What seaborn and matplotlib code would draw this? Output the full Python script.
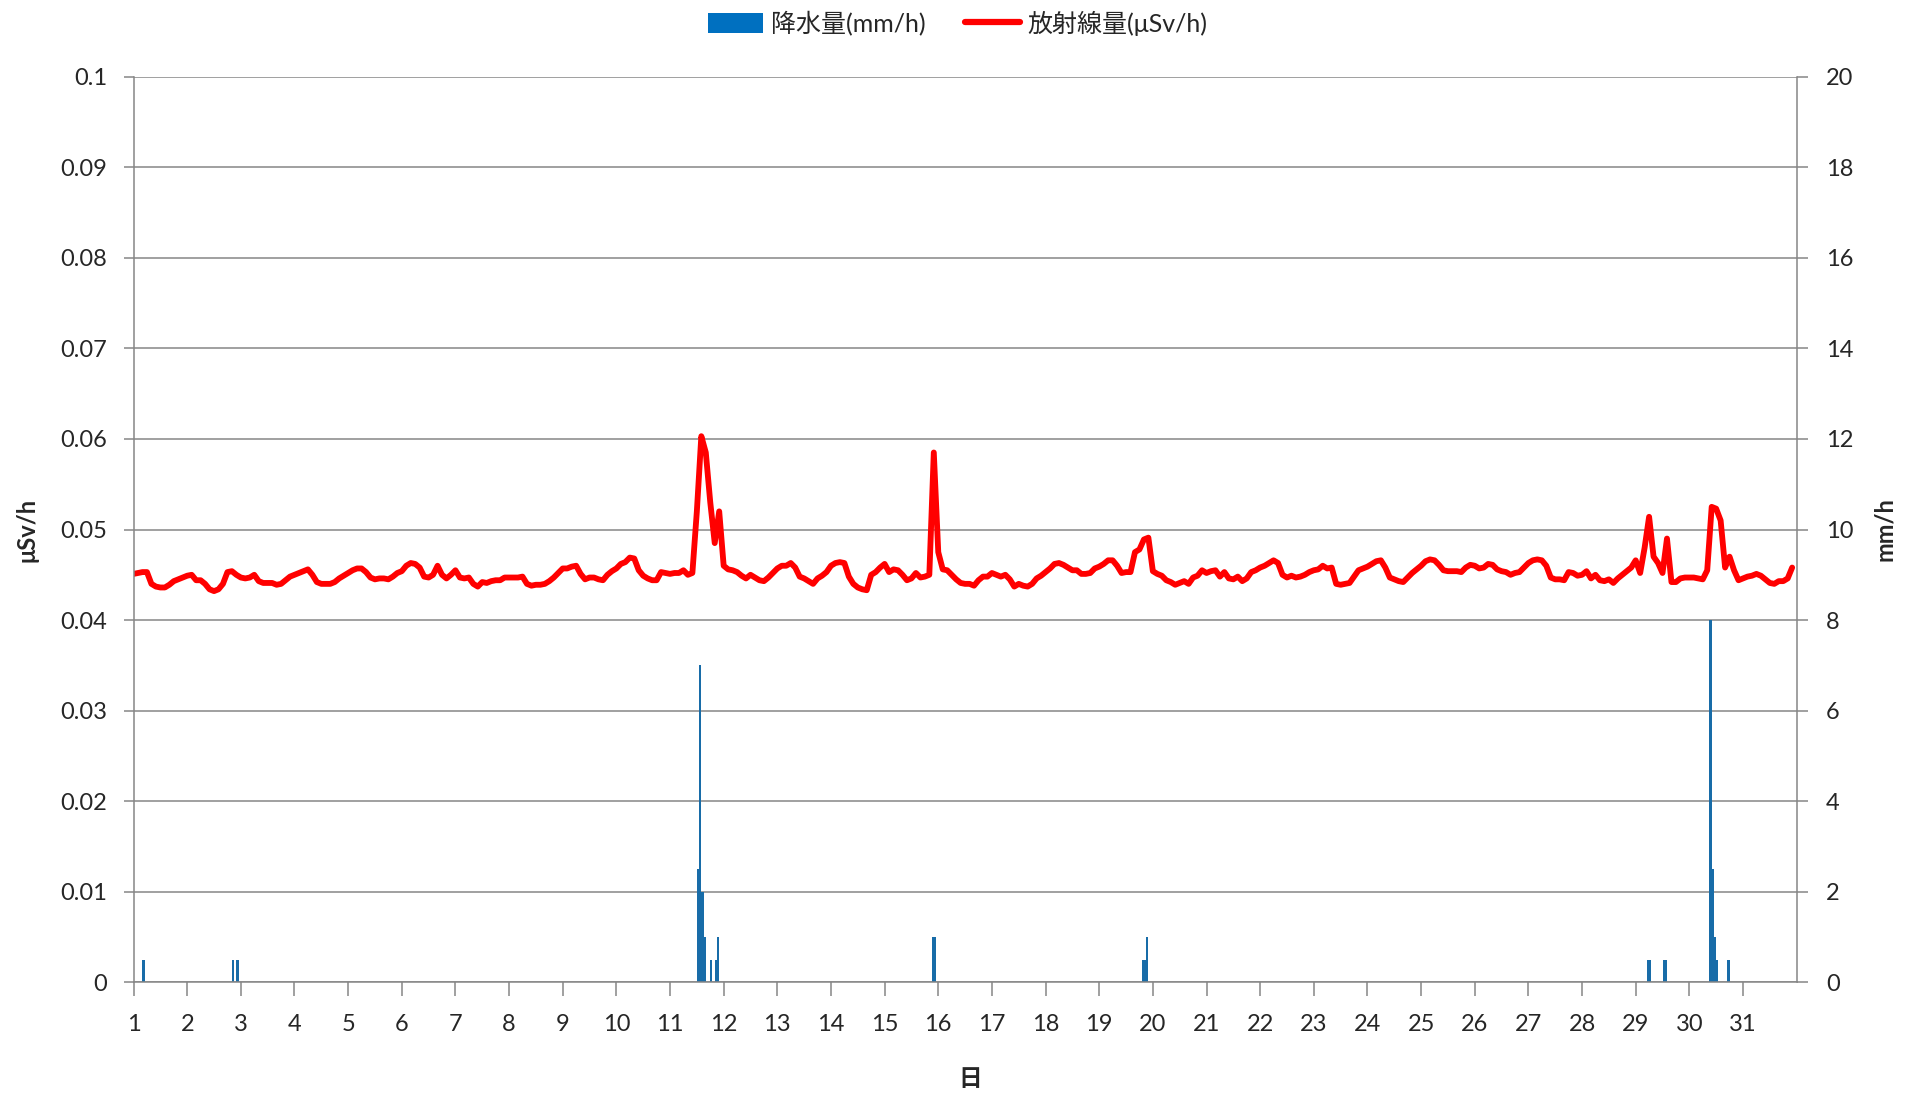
import numpy as np
import pandas as pd
import seaborn as sns
import matplotlib.pyplot as plt
from matplotlib.patches import Patch
from matplotlib.lines import Line2D

# x axis labels (day of month)
days = list(range(1, 32))

# radiation dose (μSv/h), read every 2 hours, 12 readings per day
dose = [
    0.0451, 0.0452, 0.0453, 0.0453, 0.0440, 0.0437, 0.0436, 0.0436, 0.0439, 0.0443, 0.0445, 0.0447,  # 1
    0.0449, 0.0450, 0.0444, 0.0444, 0.0440, 0.0434, 0.0432, 0.0434, 0.0440, 0.0453, 0.0454, 0.0450,  # 2
    0.0447, 0.0446, 0.0447, 0.0450, 0.0443, 0.0441, 0.0441, 0.0441, 0.0439, 0.0440, 0.0444, 0.0448,  # 3
    0.0450, 0.0452, 0.0454, 0.0456, 0.0450, 0.0442, 0.0440, 0.0440, 0.0440, 0.0442, 0.0446, 0.0449,  # 4
    0.0452, 0.0455, 0.0457, 0.0457, 0.0453, 0.0447, 0.0445, 0.0446, 0.0446, 0.0445, 0.0448, 0.0452,  # 5
    0.0454, 0.0460, 0.0463, 0.0462, 0.0458, 0.0448, 0.0447, 0.0450, 0.0460, 0.0450, 0.0446, 0.0450,  # 6
    0.0455, 0.0447, 0.0446, 0.0447, 0.0440, 0.0437, 0.0442, 0.0441, 0.0443, 0.0444, 0.0444, 0.0447,  # 7
    0.0447, 0.0447, 0.0447, 0.0448, 0.0440, 0.0438, 0.0439, 0.0439, 0.0440, 0.0443, 0.0447, 0.0452,  # 8
    0.0457, 0.0457, 0.0459, 0.0460, 0.0451, 0.0445, 0.0447, 0.0447, 0.0445, 0.0444, 0.0450, 0.0454,  # 9
    0.0457, 0.0462, 0.0464, 0.0469, 0.0468, 0.0455, 0.0449, 0.0446, 0.0444, 0.0444, 0.0453, 0.0452,  # 10
    0.0451, 0.0452, 0.0452, 0.0455, 0.0450, 0.0452, 0.0520, 0.0603, 0.0585, 0.0530, 0.0485, 0.0520,  # 11
    0.0460, 0.0456, 0.0455, 0.0453, 0.0449, 0.0446, 0.0450, 0.0447, 0.0444, 0.0443, 0.0447, 0.0452,  # 12
    0.0457, 0.0460, 0.0460, 0.0463, 0.0458, 0.0448, 0.0446, 0.0443, 0.0440, 0.0446, 0.0449, 0.0453,  # 13
    0.0460, 0.0463, 0.0464, 0.0463, 0.0448, 0.0440, 0.0436, 0.0434, 0.0433, 0.0450, 0.0453, 0.0458,  # 14
    0.0462, 0.0453, 0.0456, 0.0455, 0.0450, 0.0444, 0.0446, 0.0452, 0.0447, 0.0448, 0.0450, 0.0585,  # 15
    0.0475, 0.0456, 0.0455, 0.0450, 0.0445, 0.0441, 0.0440, 0.0440, 0.0438, 0.0444, 0.0448, 0.0448,  # 16
    0.0452, 0.0450, 0.0448, 0.0450, 0.0445, 0.0437, 0.0440, 0.0438, 0.0437, 0.0440, 0.0446, 0.0449,  # 17
    0.0453, 0.0457, 0.0462, 0.0463, 0.0461, 0.0458, 0.0455, 0.0455, 0.0451, 0.0451, 0.0452, 0.0457,  # 18
    0.0459, 0.0462, 0.0466, 0.0466, 0.0460, 0.0452, 0.0453, 0.0453, 0.0475, 0.0478, 0.0489, 0.0491,  # 19
    0.0454, 0.0451, 0.0449, 0.0444, 0.0442, 0.0439, 0.0441, 0.0443, 0.0440, 0.0447, 0.0449, 0.0455,  # 20
    0.0452, 0.0454, 0.0455, 0.0448, 0.0453, 0.0446, 0.0445, 0.0448, 0.0443, 0.0446, 0.0453, 0.0455,  # 21
    0.0458, 0.0460, 0.0463, 0.0466, 0.0463, 0.0450, 0.0447, 0.0449, 0.0447, 0.0448, 0.0450, 0.0453,  # 22
    0.0455, 0.0456, 0.0460, 0.0457, 0.0458, 0.0440, 0.0439, 0.0440, 0.0441, 0.0448, 0.0455, 0.0457,  # 23
    0.0459, 0.0462, 0.0465, 0.0466, 0.0458, 0.0447, 0.0445, 0.0443, 0.0442, 0.0447, 0.0452, 0.0456,  # 24
    0.0460, 0.0465, 0.0467, 0.0466, 0.0461, 0.0455, 0.0454, 0.0454, 0.0454, 0.0453, 0.0458, 0.0461,  # 25
    0.0460, 0.0457, 0.0458, 0.0462, 0.0461, 0.0456, 0.0454, 0.0453, 0.0450, 0.0452, 0.0453, 0.0458,  # 26
    0.0463, 0.0466, 0.0467, 0.0466, 0.0460, 0.0447, 0.0445, 0.0445, 0.0444, 0.0453, 0.0452, 0.0449,  # 27
    0.0450, 0.0454, 0.0446, 0.0450, 0.0444, 0.0443, 0.0445, 0.0441, 0.0446, 0.0450, 0.0454, 0.0458,  # 28
    0.0466, 0.0452, 0.0480, 0.0514, 0.0470, 0.0463, 0.0452, 0.0490, 0.0442, 0.0442, 0.0446, 0.0447,  # 29
    0.0447, 0.0447, 0.0446, 0.0445, 0.0455, 0.0525, 0.0523, 0.0510, 0.0458, 0.0470, 0.0455, 0.0444,  # 30
    0.0446, 0.0448, 0.0449, 0.0451, 0.0449, 0.0445, 0.0441, 0.0440, 0.0443, 0.0443, 0.0446, 0.0458,  # 31
]

# rainfall (mm/h): hour counted from day 1 00:00, and amount
rain_hour = [4, 44, 46, 252, 253, 254, 255, 258, 260, 261, 357, 358,
             451, 452, 453, 677, 678, 684, 685, 705, 706, 707, 708, 713]
rain_mm = [0.5, 0.5, 0.5, 2.5, 7.0, 2.0, 1.0, 0.5, 0.5, 1.0, 1.0, 1.0,
           0.5, 0.5, 1.0, 0.5, 0.5, 0.5, 0.5, 8.0, 2.5, 1.0, 0.5, 0.5]

dose_df = pd.DataFrame({"day": 1 + np.arange(0, 744, 2) / 24, "dose": dose})
rain_df = pd.DataFrame({"day": 1 + (np.array(rain_hour) + 0.5) / 24, "rain": rain_mm})

sns.set_style("white")
plt.rcParams["font.family"] = ["Lato", "Noto Sans", "Noto Sans CJK JP", "DejaVu Sans"]

GRAY = "#868686"
BLUE = "#0070C0"

fig = plt.figure(figsize=(19.16, 10.93), dpi=100)
ax = fig.add_axes([0.0697, 0.1011, 0.8680, 0.8289])
ax2 = ax.twinx()

# rainfall bars on the right axis, behind the line
sns.barplot(data=rain_df, x="day", y="rain", native_scale=True, orient="x",
            width=1.0, color=BLUE, linewidth=0, errorbar=None, ax=ax2)
ax2.set_ylim(0, 20)
ax2.set_yticks(range(0, 21, 2))
ax2.set_axisbelow(True)
ax2.grid(axis="y", color=GRAY, linewidth=1.1)
ax2.grid(axis="x", visible=False)

# radiation line on the left axis, drawn on top
ax.set_zorder(ax2.get_zorder() + 1)
ax.patch.set_visible(False)
sns.lineplot(data=dose_df, x="day", y="dose", color="#FF0000", linewidth=4.2, ax=ax)

ax.set_xlim(1, 32)
ax2.set_xlim(1, 32)
ax.set_ylim(0, 0.1)
yt = np.round(np.arange(0, 0.1001, 0.01), 2)
ax.set_yticks(yt)
ax.set_yticklabels([f"{v:g}" for v in yt])
ax.set_xticks(days)
ax.set_xticklabels([str(d) for d in days])
ax.grid(False)

for a in (ax, ax2):
    for s in a.spines.values():
        s.set_color(GRAY)
        s.set_linewidth(1.1)
    a.spines["top"].set_visible(False)
ax.spines["right"].set_visible(False)
ax2.spines["left"].set_visible(False)
ax2.spines["bottom"].set_visible(False)

ax.tick_params(axis="y", left=True, direction="out", length=7, width=1.1, color=GRAY,
               pad=12, labelsize=17)
ax.tick_params(axis="x", bottom=True, direction="out", length=10, width=1.1, color=GRAY,
               pad=13, labelsize=17)
ax2.tick_params(axis="y", right=True, direction="out", length=8, width=1.1, color=GRAY,
                pad=13, labelsize=17)

ax.set_ylabel("μSv/h", fontweight="bold", fontsize=17)
ax.yaxis.set_label_coords(-0.057, 0.5)
ax2.set_ylabel("mm/h", fontweight="bold", fontsize=17, rotation=90)
ax2.yaxis.set_label_coords(1.046, 0.5)
ax.set_xlabel("日", fontweight="bold", fontsize=17)
ax.xaxis.set_label_coords(0.503, -0.093)

handles = [Patch(facecolor=BLUE, edgecolor="none"),
           Line2D([], [], color="#FF0000", linewidth=4.5)]
fig.legend(handles, ["降水量(mm/h)", "放射線量(μSv/h)"], loc="center",
           bbox_to_anchor=(0.5, 0.979), ncol=2, frameon=False, fontsize=18,
           handlelength=2.2, handleheight=0.9, handletextpad=0.3, columnspacing=1.6)

fig.savefig("out.png", dpi=100, facecolor="white")
